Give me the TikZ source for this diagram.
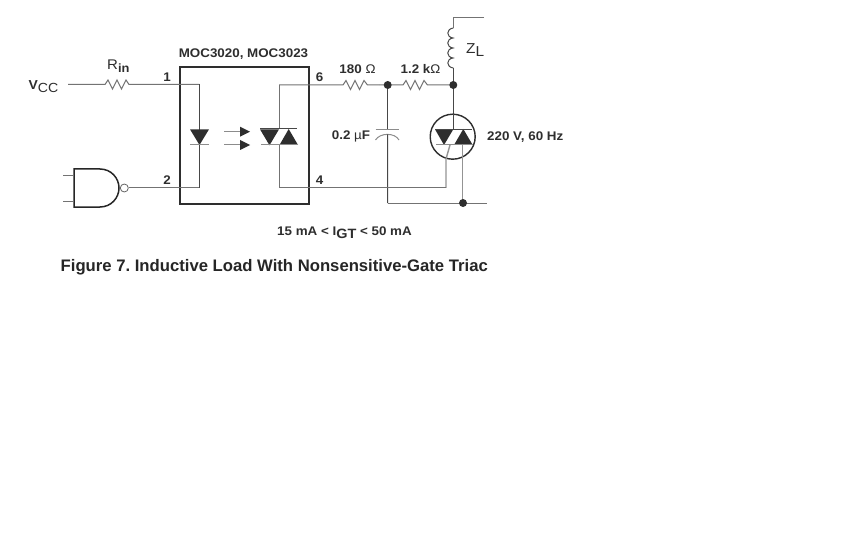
\documentclass[tikz,border=0pt]{standalone}
\usepackage{fontspec}
\setmainfont{Liberation Sans}
\newfontfamily\widesans[FakeStretch=1.07]{Liberation Sans}
\begin{document}
\begin{tikzpicture}[x=1pt,y=-1pt,
  wire/.style={draw=black!55,line width=1pt},
  palewire/.style={draw=black!42,line width=1.4pt},
  darkwire/.style={draw=black!72,line width=1pt},
  barline/.style={draw=black!45,line width=1pt},
  pkg/.style={draw=black!82,line width=1.9pt},
  solid tri/.style={fill=black!82,draw=none},
  jdot/.style={circle,fill=black!82,draw=none,minimum size=8pt,inner sep=0pt},
  lbl/.style={inner sep=0pt,text=black!82,font=\widesans\fontsize{12.5}{14}\selectfont\bfseries},
  figcaption/.style={inner sep=0pt,text=black!85,font=\fontsize{16.68}{18}\selectfont\bfseries}]
\useasboundingbox (0,0) rectangle (864,540);
\fill[white] (0,0) rectangle (864,540);
\frenchspacing

% coordinates
\coordinate (vcc) at (68,84.5);
\coordinate (r1a) at (96,84.5);
\coordinate (r1b) at (142,84.5);
\coordinate (led top) at (199.3,84.5);
\coordinate (led bot) at (199.3,188);
\coordinate (triac top) at (279,85);
\coordinate (triac bot) at (279,188);
\coordinate (gatecorner) at (446,188);
\coordinate (r2b) at (379,85);
\coordinate (ztop) at (453.3,18);
\coordinate (zend) at (484,18);
\coordinate (capbot) at (387.7,203);
\coordinate (gnd end) at (487,203);

% package
\node[pkg,draw,minimum width=129pt,minimum height=136.5pt,inner sep=0pt,anchor=north west] (box) at (179,66.5) {};

% input wiring
\draw[wire] (vcc) -- (r1a) -- ++(9,0) -- ++(3,-4.5) -- ++(4.5,9) -- ++(4.5,-9) -- ++(4.5,9) -- ++(4.5,-9) -- ++(3,4.5) -- (r1b) -- (led top);
\draw[darkwire] (led top) -- (led bot);
\draw[wire] (led bot) -- (128.5,188);

% LED
\fill[solid tri] (190,129.3) -- (209,129.3) -- (199.5,145) -- cycle;
\draw[barline] (190,145) -- (209,145);

% photon arrows
\draw[barline] (224,131.7) -- (240,131.7);
\draw[barline] (224,145) -- (240,145);
\fill[solid tri] (240,126.7) -- (250,131.7) -- (240,136.7) -- cycle;
\fill[solid tri] (240,140) -- (250,145) -- (240,150) -- cycle;

% opto triac
\draw[wire] (triac top) -- (279,129);
\draw[wire] (279,145) -- (triac bot);
\fill[solid tri] (260,129.3) -- (279,129.3) -- (269.5,145.3) -- cycle;
\fill[solid tri] (279.5,145) -- (298,145) -- (288.7,129) -- cycle;
\draw[darkwire] (260,129) -- (297,129);
\draw[barline] (261,145) -- (298,145);

% output resistors
\draw[wire] (triac top) -- (343,85) -- ++(3,-4.5) -- ++(4.5,9) -- ++(4.5,-9) -- ++(4.5,9) -- ++(4.5,-9) -- ++(3.5,4.5) -- (r2b);
\draw[wire] (r2b) -- (387.7,85) -- (403,85) -- ++(3,-4.5) -- ++(4.5,9) -- ++(4.5,-9) -- ++(4.5,9) -- ++(4.5,-9) -- ++(3.5,4.5) -- (453.3,85);

% inductor
\draw[wire] (zend) -- (ztop) -- (453.3,28);
\draw[darkwire] (453.3,28)
  .. controls (446,29) and (446,37) .. (453,38)
  .. controls (446,39) and (446,47) .. (453,48)
  .. controls (446,49) and (446,57) .. (453,58)
  .. controls (446,59) and (446,67) .. (453.3,68);
\draw[darkwire] (453.3,68) -- (453.3,114.2);

% capacitor
\draw[darkwire] (387.5,85) -- (387.5,130);
\draw[barline] (375.5,130) -- (399,130);
\draw[barline] (375.5,140) .. controls (380,132.5) and (395,132.5) .. (399,140);
\draw[darkwire] (387.5,134.5) -- (capbot);
\draw[wire] (capbot) -- (gnd end);

% power triac
\node[draw=black!82,line width=1.4pt,circle,minimum size=45pt,inner sep=0pt] (triac) at (452.7,136.7) {};
\draw[darkwire] (453.3,114.2) -- (453.3,129.3);
\fill[solid tri] (435,129.3) -- (453.3,129.3) -- (444,145) -- cycle;
\fill[solid tri] (454,145) -- (472.7,145) -- (463.3,129) -- cycle;
\draw[darkwire] (435,129.3) -- (471.7,129.3);
\draw[barline] (436,144.7) -- (472.7,144.7);
\draw[palewire] (462.7,145) -- (462.7,203);
\draw[palewire] (450,145) -- (446,159) -- (gatecorner);
\draw[wire] (gatecorner) -- (triac bot);

% NAND gate
\draw[draw=black!85,line width=1.5pt] (74,169) -- (100,169) .. controls (111,169) and (119,178) .. (119,188) .. controls (119,198) and (111,207) .. (100,207) -- (74,207) -- cycle;
\node[draw=black!60,line width=0.8pt,fill=white,circle,minimum size=8pt,inner sep=0pt] (bubble) at (124.3,188) {};
\draw[wire] (63,176) -- (74,176);
\draw[wire] (63,201) -- (74,201);

% junctions
\node[jdot] (j1) at (387.7,85) {};
\node[jdot] (j2) at (453.3,85) {};
\node[jdot] (j3) at (463,203) {};

% labels
\node[lbl,anchor=base west] (lvcc) at (28.5,90) {\fontsize{13}{14}\selectfont V\raisebox{-2.7pt}{\mdseries\fontsize{13.2}{14}\selectfont CC}};
\node[lbl,anchor=base west] (lrin) at (107,69.5) {\mdseries\fontsize{14}{14}\selectfont R\raisebox{-3.5pt}{\bfseries\fontsize{12}{14}\selectfont in}};
\node[lbl,anchor=base] (l1) at (167,82) {1};
\node[lbl,anchor=base] (l2) at (167,185) {2};
\node[lbl,anchor=base] (l6) at (319.7,82) {6};
\node[lbl,anchor=base] (l4) at (319.7,185) {4};
\node[lbl,anchor=base] (lmoc) at (243.5,57.7) {MOC3020, MOC3023};
\node[lbl,anchor=base] (l180) at (357.5,74) {180 {\mdseries Ω}};
\node[lbl,anchor=base] (l12) at (420.5,74) {1.2 k{\mdseries Ω}};
\node[lbl,anchor=base] (l02) at (351,140) {0.2 {\mdseries µ}F};
\node[lbl,anchor=base west] (lvac) at (487,140.5) {220 V, 60 Hz};
\node[lbl,anchor=base west] (lz) at (466,53.3) {\mdseries\fontsize{14.4}{14}\selectfont Z\raisebox{-3.4pt}{L}};
\node[lbl,anchor=base] (ligt) at (344.5,235.5) {15 mA < I\raisebox{-2.7pt}{\fontsize{13.5}{14}\selectfont GT} < 50 mA};
\node[figcaption,anchor=base west] (fig) at (60.5,271) {Figure 7. Inductive Load With Nonsensitive-Gate Triac};
\end{tikzpicture}
\end{document}
